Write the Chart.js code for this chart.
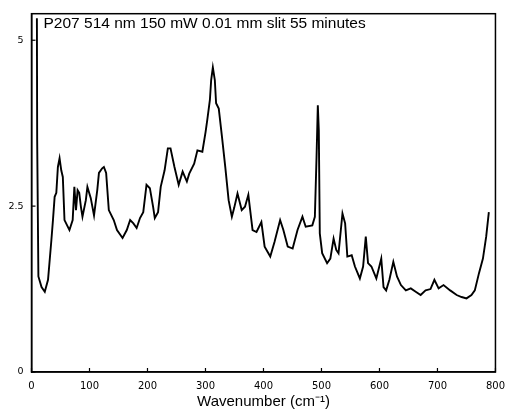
<!DOCTYPE html>
<html>
<head>
<meta charset="utf-8">
<script src="https://cdn.jsdelivr.net/npm/chart.js@4"></script>
<style>
  html, body { margin: 0; padding: 0; background: #fff; }
  #wrap { width: 513px; height: 412px; position: relative; }
</style>
</head>
<body>
<div id="wrap"><canvas id="c" width="513" height="412"></canvas></div>
<script>
const chartTitle = "P207 514 nm 150 mW 0.01 mm slit 55 minutes";
const xAxisTitle = "Wavenumber (cm\u207B\u00B9)";
const xTickValues = [0, 100, 200, 300, 400, 500, 600, 700, 800];
const yTickValues = [0, 2.5, 5];

const wavenumber = [
  9.3, 9.8, 11.9, 17.3, 22.9, 28.5, 34.3, 37.0, 39.9, 42.8, 45.5, 48.4, 51.3, 54.0, 56.9,
  62.5, 65.4, 71.0, 73.9, 76.7, 79.5, 82.3, 85.2, 87.9, 93.7, 96.4, 102.2, 107.8, 113.4,
  116.3, 121.9, 124.8, 128.7, 133.3, 141.8, 147.4, 157.0, 164.3, 170.1, 175.7, 181.3,
  187.1, 192.7, 198.3, 204.1, 209.7, 212.6, 218.2, 222.8, 229.5, 235.1, 239.7, 246.5,
  253.8, 260.6, 267.9, 272.0, 280.5, 286.1, 294.6, 300.2, 303.1, 307.6, 309.8, 312.7,
  316.1, 318.3, 322.9, 328.5, 334.1, 339.9, 345.5, 349.4, 355.2, 362.5, 368.1, 373.9,
  381.2, 388.0, 396.4, 402.0, 411.7, 419.0, 428.7, 434.3, 441.8, 450.3, 458.7, 467.2,
  472.8, 484.2, 488.6, 491.5, 493.7, 495.4, 497.1, 501.2, 509.7, 515.3, 520.9, 525.5,
  529.4, 536.2, 540.8, 544.6, 552.1, 557.7, 566.2, 571.8, 576.4, 580.3, 586.1, 594.6,
  603.1, 607.0, 611.5, 617.1, 623.9, 630.2, 637.0, 645.5, 654.0, 662.5, 671.0, 679.5,
  688.0, 694.7, 702.0, 710.5, 721.9, 733.1, 741.6, 750.1, 758.6, 764.4, 771.6, 778.4,
  784.0, 788.6
];
const intensity = [
  5.33, 3.49, 1.44, 1.28, 1.21, 1.39, 1.99, 2.29, 2.64, 2.70, 3.09, 3.22, 3.04, 2.94, 2.29,
  2.19, 2.14, 2.29, 2.79, 2.44, 2.74, 2.70, 2.49, 2.34, 2.59, 2.79, 2.62, 2.36, 2.74,
  3.00, 3.07, 3.09, 3.00, 2.44, 2.29, 2.14, 2.02, 2.14, 2.29, 2.24, 2.17,
  2.32, 2.41, 2.82, 2.77, 2.49, 2.32, 2.41, 2.79, 3.04, 3.37, 3.37, 3.09,
  2.82, 3.02, 2.87, 2.99, 3.14, 3.34, 3.32, 3.62, 3.80, 4.10, 4.40, 4.59,
  4.40, 4.05, 3.97, 3.54, 3.09, 2.59, 2.34, 2.47, 2.69, 2.44, 2.49, 2.67,
  2.14, 2.11, 2.26, 1.89, 1.74, 1.96, 2.29, 2.14, 1.89, 1.86, 2.14, 2.34,
  2.19, 2.21, 2.34, 3.24, 4.02, 3.64, 2.09, 1.79, 1.64, 1.71, 2.01, 1.84,
  1.79, 2.39, 2.24, 1.74, 1.76, 1.59, 1.41, 1.59, 2.04, 1.64, 1.59, 1.41,
  1.71, 1.28, 1.23, 1.39, 1.66, 1.44, 1.31, 1.23, 1.26, 1.21, 1.16, 1.23,
  1.25, 1.39, 1.26, 1.31, 1.23, 1.16, 1.13, 1.11, 1.16, 1.23, 1.49, 1.71,
  2.04, 2.41
];

const points = wavenumber.map((x, i) => ({ x: x, y: intensity[i] }));

const framePlugin = {
  id: 'frame',
  afterDraw(chart) {
    const ctx = chart.ctx;
    const a = chart.chartArea;
    const xs = chart.scales.x, ys = chart.scales.y;
    ctx.save();
    ctx.strokeStyle = '#000';
    ctx.lineWidth = 1.5;
    ctx.strokeRect(a.left, a.top, a.right - a.left, a.bottom - a.top);
    ctx.lineWidth = 1.2;
    xTickValues.forEach(v => {
      const px = xs.getPixelForValue(v);
      ctx.beginPath(); ctx.moveTo(px, a.bottom); ctx.lineTo(px, a.bottom - 4); ctx.stroke();
    });
    yTickValues.forEach(v => {
      const py = ys.getPixelForValue(v);
      ctx.beginPath(); ctx.moveTo(a.left, py); ctx.lineTo(a.left + 4, py); ctx.stroke();
    });
    ctx.fillStyle = '#000';
    ctx.font = '15.5px "Liberation Sans", Arial, sans-serif';
    ctx.textBaseline = 'alphabetic';
    ctx.textAlign = 'left';
    ctx.fillText(chartTitle, a.left + 12, a.top + 14);
    ctx.restore();
  }
};

new Chart(document.getElementById('c'), {
  type: 'line',
  data: {
    datasets: [{
      data: points,
      borderColor: '#000',
      borderWidth: 1.9,
      pointRadius: 0,
      tension: 0,
      fill: false
    }]
  },
  options: {
    responsive: false,
    animation: false,
    layout: { padding: { top: 13, right: 10, left: 0, bottom: 0 } },
    plugins: { legend: { display: false }, tooltip: { enabled: false } },
    scales: {
      x: {
        type: 'linear',
        min: 0, max: 800,
        afterBuildTicks(s) { s.ticks = xTickValues.map(v => ({ value: v })); },
        afterFit(s) { s.height = 40; },
        grid: { display: false, drawTicks: false },
        border: { display: true, color: '#000', width: 1.5 },
        ticks: { color: '#000', font: { size: 10, family: '"DejaVu Sans", sans-serif' }, padding: 8, maxRotation: 0 },
        title: {
          display: true, text: xAxisTitle, color: '#000',
          font: { size: 15, family: '"Liberation Sans", Arial, sans-serif' },
          padding: { top: 0, bottom: 1 }
        }
      },
      y: {
        type: 'linear',
        min: 0, max: 5.4,
        afterBuildTicks(s) { s.ticks = yTickValues.map(v => ({ value: v })); },
        afterFit(s) { s.width = 31.5; },
        grid: { display: false, drawTicks: false },
        border: { display: true, color: '#000', width: 1.5 },
        ticks: { color: '#000', font: { size: 9.5, family: '"DejaVu Sans", sans-serif' }, padding: 8 }
      }
    }
  },
  plugins: [framePlugin]
});
</script>
</body>
</html>
